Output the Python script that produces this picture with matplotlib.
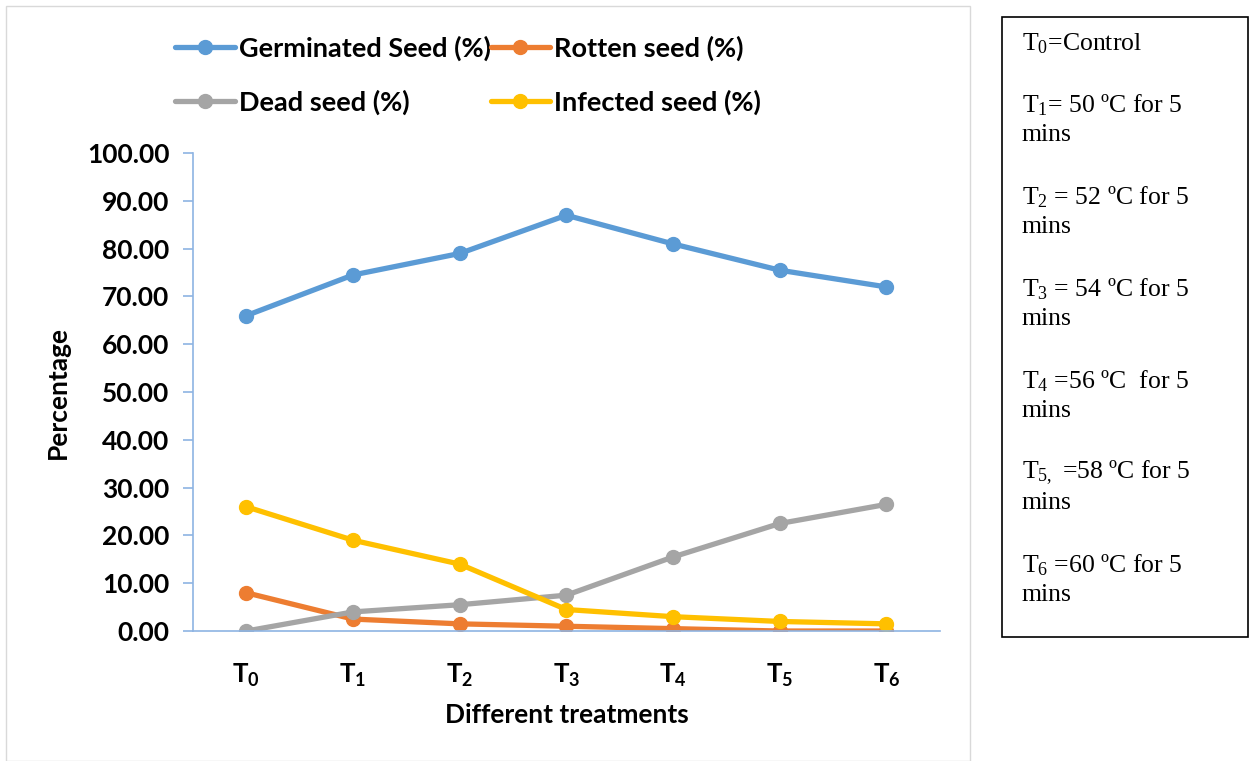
import matplotlib.pyplot as plt
from matplotlib.patches import Rectangle

# custom mathtext so subscripts follow the surrounding fonts
plt.rcParams['mathtext.fontset'] = 'custom'
plt.rcParams['mathtext.bf'] = 'Lato:bold'
plt.rcParams['mathtext.rm'] = 'Liberation Serif'
plt.rcParams['font.family'] = 'Lato'

# Data
treatments = ['$\\mathbf{T_0}$', '$\\mathbf{T_1}$', '$\\mathbf{T_2}$', '$\\mathbf{T_3}$',
              '$\\mathbf{T_4}$', '$\\mathbf{T_5}$', '$\\mathbf{T_6}$']
germinated = [66.0, 74.5, 79.0, 87.0, 81.0, 75.5, 72.0]
rotten = [8.0, 2.5, 1.5, 1.0, 0.5, 0.0, 0.0]
dead = [0.0, 4.0, 5.5, 7.5, 15.5, 22.5, 26.5]
infected = [26.0, 19.0, 14.0, 4.5, 3.0, 2.0, 1.5]

series = [
    ('Germinated Seed (%)', germinated, '#5B9BD5'),
    ('Rotten seed (%)', rotten, '#ED7D31'),
    ('Dead seed (%)', dead, '#A5A5A5'),
    ('Infected seed (%)', infected, '#FFC000'),
]

box_lines = [
    '$\\mathrm{T_0}$=Control',
    '$\\mathrm{T_1}$= 50 ºC for 5', 'mins',
    '$\\mathrm{T_2}$ = 52 ºC for 5', 'mins',
    '$\\mathrm{T_3}$ = 54 ºC for 5', 'mins',
    '$\\mathrm{T_4}$ =56 ºC  for 5', 'mins',
    '$\\mathrm{T_{5,}}$ =58 ºC for 5', 'mins',
    '$\\mathrm{T_6}$ =60 ºC for 5', 'mins',
]

fig = plt.figure(figsize=(12.55, 7.61), dpi=100)
ax = fig.add_axes([0.1538, 0.1708, 0.595, 0.628])

x = list(range(len(treatments)))
handles = {}
for name, vals, col in series:
    h, = ax.plot(x, vals, color=col, lw=3.8, marker='o', markersize=10,
                 label=name, solid_capstyle='round')
    handles[name] = h

ax.set_xlim(-0.5, 6.5)
ax.set_ylim(0, 100)
ax.set_yticks(range(0, 101, 10))
ax.set_yticklabels(['%.2f' % v for v in range(0, 101, 10)],
                   fontsize=19, fontweight='bold')
ax.set_xticks(x)
ax.set_xticklabels(treatments, fontsize=18.5)
ax.tick_params(axis='x', length=0, pad=22)
ax.tick_params(axis='y', length=7, color='#8EB4E3', width=1.2, pad=10)

for s in ['top', 'right']:
    ax.spines[s].set_visible(False)
for s in ['left', 'bottom']:
    ax.spines[s].set_color('#8EB4E3')
    ax.spines[s].set_linewidth(1.2)

ax.set_ylabel('Percentage', fontsize=19, fontweight='bold', labelpad=12)
ax.set_xlabel('Different treatments', fontsize=19, fontweight='bold', labelpad=10)

# legend laid out row by row like the original
order = ['Germinated Seed (%)', 'Dead seed (%)', 'Rotten seed (%)', 'Infected seed (%)']
fig.legend(handles=[handles[n] for n in order], loc='upper left',
           bbox_to_anchor=(0.12, 0.985), ncol=2, frameon=False,
           prop={'weight': 'bold', 'size': 19.5},
           handlelength=2.2, handletextpad=0.15, columnspacing=0.0,
           labelspacing=1.05)

# chart area border
fig.patches.append(Rectangle((6 / 1255, 0), 964 / 1255, 755 / 761,
                             transform=fig.transFigure, fill=False,
                             edgecolor='#D9D9D9', lw=1))

# side text box
fig.patches.append(Rectangle((1002 / 1255, 1 - 637 / 761), 246 / 1255, 620 / 761,
                             transform=fig.transFigure, fill=False,
                             edgecolor='black', lw=1.2))
y = 1 - 44 / 761
gaps = [61, 30, 62, 30, 62, 30, 62, 30, 62, 30, 62, 30]
for i, line in enumerate(box_lines):
    fig.text(1022 / 1255, y, line, family='Liberation Serif', fontsize=18.5,
             va='center', ha='left')
    if i < len(gaps):
        y -= gaps[i] / 761

fig.savefig('out.png', dpi=100)
